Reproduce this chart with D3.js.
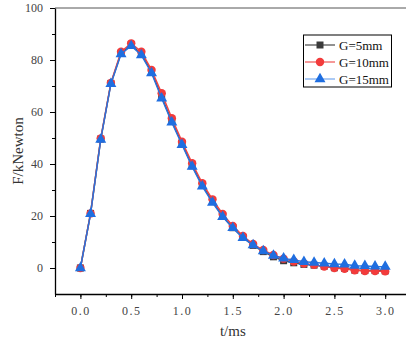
<!DOCTYPE html>
<html>
<head>
<meta charset="utf-8">
<script src="https://cdn.jsdelivr.net/npm/d3@7"></script>
<style>
  body { margin: 0; background: #fff; }
  svg { display: block; }
  text { font-family: "Liberation Serif", "DejaVu Serif", serif; }
</style>
</head>
<body>
<div id="chart"></div>
<script>
// temps (ms) et efforts (kN)
const times = [0.0, 0.1, 0.2, 0.3, 0.4, 0.5, 0.6, 0.7, 0.8, 0.9, 1.0,
               1.1, 1.2, 1.3, 1.4, 1.5, 1.6, 1.7, 1.8, 1.9, 2.0,
               2.1, 2.2, 2.3, 2.4, 2.5, 2.6, 2.7, 2.8, 2.9, 3.0];

const g5 = [0, 21, 49.6, 71, 82.6, 85.8, 82.3, 75.5, 65.8, 56.4, 47.9,
            39.3, 31.9, 25.6, 19.9, 15.5, 11.8, 8.7, 6.3, 4.3, 2.8,
            2.0, 1.4, 1.1, 0.7, 0.1, -0.1, -0.8, -1.0, -1.0, -1.1];
const g10 = [0, 21, 49.8, 71.2, 83.2, 86.4, 83.2, 76.2, 67.2, 57.6, 48.6,
             40.3, 32.6, 26.4, 20.8, 16.2, 12.3, 9.2, 6.9, 5.0, 3.6,
             2.5, 1.7, 1.2, 0.6, 0.0, -0.3, -0.9, -1.2, -1.2, -1.3];
const g15 = [0, 20.8, 49.4, 70.8, 82.3, 85.4, 81.9, 75.0, 65.3, 56.0, 47.4,
             39.0, 31.4, 25.2, 19.7, 15.4, 11.6, 8.8, 6.5, 4.8, 3.7,
             3.1, 2.4, 2.1, 1.8, 1.5, 1.4, 0.9, 0.8, 0.6, 0.5];

const seriesNames = ["G=5mm", "G=10mm", "G=15mm"];
const xTicks = [0, 0.5, 1.0, 1.5, 2.0, 2.5, 3.0];
const yTicks = [0, 20, 40, 60, 80, 100];

const series = [
  { name: seriesNames[0], values: g5,  symbol: d3.symbolSquare,   size: 49, fill: "#3a3a3a", line: "#4d4d4d", legendLine: "#555" },
  { name: seriesNames[1], values: g10, symbol: d3.symbolCircle,   size: 56, fill: "#f23b3b", line: "#f04545", legendLine: "#f26060" },
  { name: seriesNames[2], values: g15, symbol: d3.symbolTriangle, size: 52, fill: "#1f6ee0", line: "#2a72dc", legendLine: "#7eaef0" }
];

const width = 406, height = 342;
const x = d3.scaleLinear().domain([-0.25, 3.25]).range([55, 410.6]);
const y = d3.scaleLinear().domain([-10, 100]).range([294, 8]);

const svg = d3.select("#chart").append("svg")
    .attr("width", width)
    .attr("height", height);

// cadre du haut
svg.append("line")
    .attr("x1", x(-0.25)).attr("x2", x(3.25))
    .attr("y1", y(100)).attr("y2", y(100))
    .attr("stroke", "#555").attr("stroke-width", 1);

// axe X : petites graduations puis graduations principales
svg.append("g")
    .attr("transform", "translate(0," + y(-10) + ")")
    .call(d3.axisBottom(x).tickValues(d3.range(-0.25, 3.26, 0.25)).tickSize(3).tickFormat("").tickSizeOuter(0))
    .call(g => g.select(".domain").remove())
    .call(g => g.selectAll("line").attr("stroke", "#000"));

svg.append("g")
    .attr("transform", "translate(0," + y(-10) + ")")
    .call(d3.axisBottom(x).tickValues(xTicks).tickSize(5).tickPadding(7).tickSizeOuter(0).tickFormat(d3.format(".1f")))
    .call(g => g.select(".domain").attr("stroke", "#000").attr("stroke-width", 1.3))
    .call(g => g.selectAll("text")
        .style("font-size", "12px")
        .style("letter-spacing", "1.5px")
        .attr("fill", "#444"));

// axe Y
svg.append("g")
    .attr("transform", "translate(" + x(-0.25) + ",0)")
    .call(d3.axisLeft(y).tickValues([10, 30, 50, 70, 90]).tickSize(3).tickFormat("").tickSizeOuter(0))
    .call(g => g.select(".domain").remove())
    .call(g => g.selectAll("line").attr("stroke", "#000"));

svg.append("g")
    .attr("transform", "translate(" + x(-0.25) + ",0)")
    .call(d3.axisLeft(y).tickValues(yTicks).tickSize(5).tickPadding(7).tickSizeOuter(0))
    .call(g => g.select(".domain").attr("stroke", "#000").attr("stroke-width", 1.3))
    .call(g => g.selectAll("text")
        .style("font-size", "12px")
        .attr("fill", "#444"));

// titres des axes
svg.append("text")
    .attr("x", (x(-0.25) + x(3.25)) / 2)
    .attr("y", 336)
    .attr("text-anchor", "middle")
    .style("font-size", "15px")
    .attr("fill", "#333")
    .text("t/ms");

svg.append("text")
    .attr("transform", "translate(23," + (y(-10) + y(100)) / 2 + ")rotate(-90)")
    .attr("text-anchor", "middle")
    .style("font-size", "15px")
    .attr("fill", "#333")
    .text("F/kNewton");

// courbes et marqueurs
const line = d3.line()
    .x((d, i) => x(times[i]))
    .y(d => y(d));

series.forEach(s => {
    const g = svg.append("g");
    g.append("path")
        .datum(s.values)
        .attr("d", line)
        .attr("fill", "none")
        .attr("stroke", s.line)
        .attr("stroke-width", 1.5);
    g.selectAll("path.mark")
        .data(s.values)
        .enter().append("path")
        .attr("class", "mark")
        .attr("d", d3.symbol().type(s.symbol).size(s.size))
        .attr("transform", (d, i) => "translate(" + x(times[i]) + "," + y(d) + ")")
        .attr("fill", s.fill);
});

// légende
const legend = svg.append("g");
legend.append("rect")
    .attr("x", 303.5).attr("y", 35)
    .attr("width", 88).attr("height", 52)
    .attr("fill", "#fff")
    .attr("stroke", "#000")
    .attr("stroke-width", 1);

series.forEach((s, i) => {
    const ly = 45 + i * 17;
    legend.append("line")
        .attr("x1", 305).attr("x2", 335)
        .attr("y1", ly).attr("y2", ly)
        .attr("stroke", s.legendLine)
        .attr("stroke-width", 1.3);
    legend.append("path")
        .attr("d", d3.symbol().type(s.symbol).size(s.size))
        .attr("transform", "translate(320," + ly + ")")
        .attr("fill", s.fill);
    legend.append("text")
        .attr("x", 339)
        .attr("y", ly + 4.5)
        .style("font-size", "13px")
        .attr("fill", "#111")
        .text(s.name);
});
</script>
</body>
</html>
